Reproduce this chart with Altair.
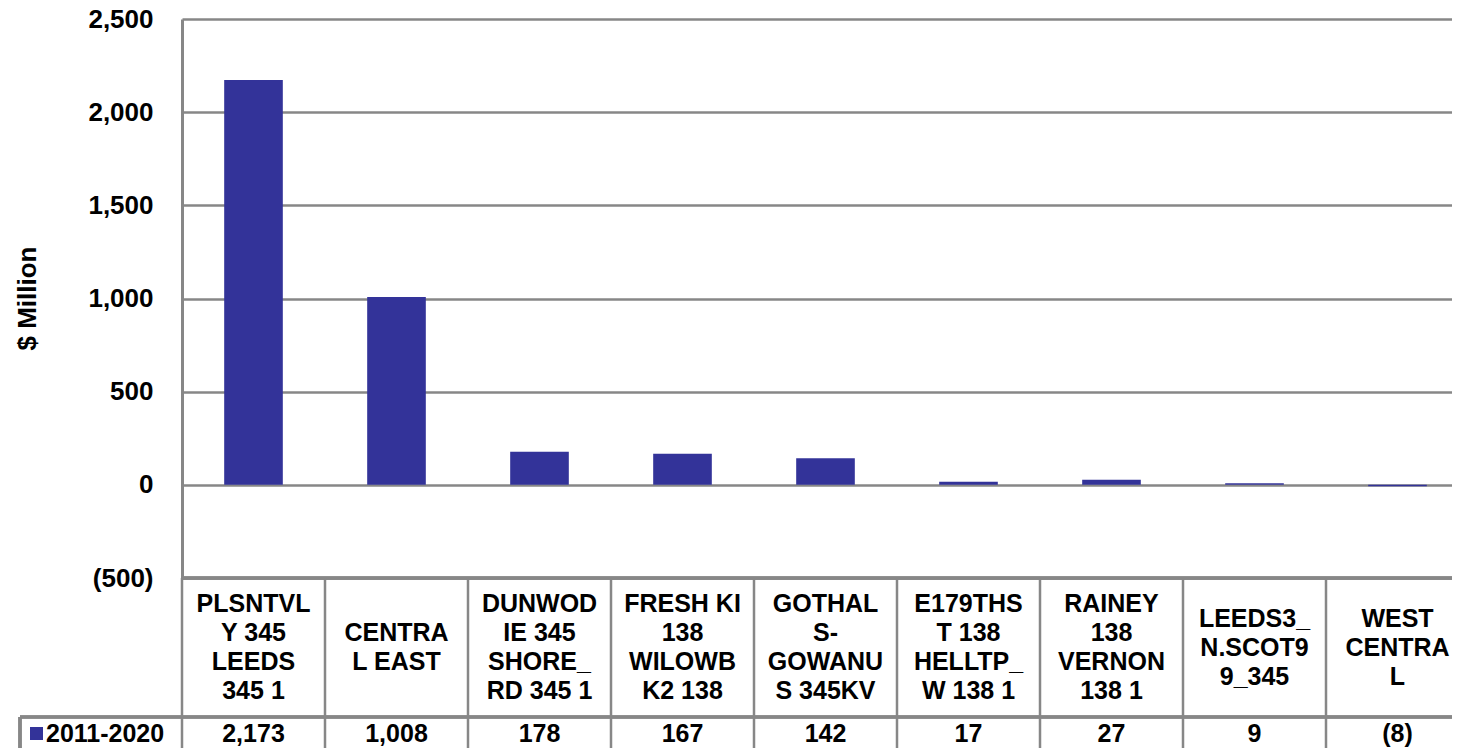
import altair as alt
import pandas as pd

# ---- data ----
categories = [
    "PLSNTVLY 345 LEEDS 345 1",
    "CENTRAL EAST",
    "DUNWODIE 345 SHORE_RD 345 1",
    "FRESH KI 138 WILOWBK2 138",
    "GOTHALS-GOWANUS 345KV",
    "E179THST 138 HELLTP_W 138 1",
    "RAINEY 138 VERNON 138 1",
    "LEEDS3_N.SCOT99_345",
    "WEST CENTRAL",
]
category_labels = [
    "PLSNTVL\nY 345\nLEEDS\n345 1",
    "CENTRA\nL EAST",
    "DUNWOD\nIE 345\nSHORE_\nRD 345 1",
    "FRESH KI\n138\nWILOWB\nK2 138",
    "GOTHAL\nS-\nGOWANU\nS 345KV",
    "E179THS\nT 138\nHELLTP_\nW 138 1",
    "RAINEY\n138\nVERNON\n138 1",
    "LEEDS3_\nN.SCOT9\n9_345",
    "WEST\nCENTRA\nL",
]
values = [2173, 1008, 178, 167, 142, 17, 27, 9, -8]
series_name = ["2011-2020"]
y_ticks = [-500, 0, 500, 1000, 1500, 2000, 2500]


def fmt(v):
    s = f"{abs(v):,}"
    return f"({s})" if v < 0 else s


df = pd.DataFrame({
    "cat": categories,
    "label": category_labels,
    "value": values,
    "vtext": [fmt(v) for v in values],
})
leg = pd.DataFrame({"name": series_name})

FONT = "Liberation Sans"
BAR = "#333399"
GRID = "#878787"

W = 1270          # visible plot width (window edge)
H = 729           # total chart height (plot + table)
PLOT_H = 559      # pixel height of the value axis
COLS_W = 1287     # full width of the 9 table columns
TABLE_MID = 698   # line between category row and value row
CAT_MID = 628.5   # vertical centre of the category row
LINE_H = 29
VAL_Y = 715

xscale = alt.Scale(domain=categories, range=[0, COLS_W], paddingInner=0, paddingOuter=0)
yscale = alt.Scale(domain=[-500, 2500], range=[PLOT_H, 0], nice=False, zero=False)

base = alt.Chart(df)

bars = base.mark_bar(color=BAR, width={"band": 0.41}).encode(
    x=alt.X("cat:N", scale=xscale, axis=None, sort=categories),
    y=alt.Y(
        "value:Q",
        scale=yscale,
        axis=alt.Axis(
            values=y_ticks,
            labelExpr="datum.value < 0 ? '(' + format(-datum.value, ',') + ')' : format(datum.value, ',')",
            labelFont=FONT,
            labelFontSize=26,
            labelFontWeight="bold",
            labelColor="black",
            labelPadding=29,
            labelOverlap=False,
            labelFlush=False,
            ticks=False,
            domainColor=GRID,
            domainWidth=3,
            gridColor=GRID,
            gridWidth=2.5,
            title="$ Million",
            titleFont=FONT,
            titleFontSize=26,
            titleFontWeight="bold",
            titleColor="black",
            titleAngle=270,
            titleX=-155,
            titleY=279,
            titleAlign="center",
            titleBaseline="middle",
        ),
    ),
    y2=alt.datum(0),
)

# vertical table lines at band boundaries
vlines = base.mark_rule(color=GRID, strokeWidth=2.5).encode(
    x=alt.X("cat:N", scale=xscale, sort=categories, bandPosition=0),
    y=alt.value(PLOT_H),
    y2=alt.value(H + 5),
)

hline_top = base.mark_rule(color=GRID, strokeWidth=2.5).encode(
    x=alt.value(0), x2=alt.value(W), y=alt.value(PLOT_H)
)
hline_mid = base.mark_rule(color=GRID, strokeWidth=2.5).encode(
    x=alt.value(-162), x2=alt.value(W), y=alt.value(TABLE_MID)
)
vline_leg = base.mark_rule(color=GRID, strokeWidth=2.5).encode(
    x=alt.value(-162), y=alt.value(TABLE_MID), y2=alt.value(H + 5)
)

# category labels, vertically centred according to their number of lines
cat_layers = []
for n in (2, 3, 4):
    cat_layers.append(
        base.transform_calculate(nlines="length(split(datum.label, '\\n'))")
        .transform_filter(f"datum.nlines == {n}")
        .mark_text(
            font=FONT, fontSize=25, fontWeight="bold", lineBreak="\n", lineHeight=LINE_H,
            align="center", baseline="middle", color="black",
        )
        .encode(
            x=alt.X("cat:N", scale=xscale, sort=categories),
            y=alt.value(CAT_MID - (n - 1) * LINE_H / 2),
            text="label:N",
        )
    )

val_text = base.mark_text(
    font=FONT, fontSize=25, fontWeight="bold",
    align="center", baseline="middle", color="black",
).encode(
    x=alt.X("cat:N", scale=xscale, sort=categories),
    y=alt.value(VAL_Y),
    text="vtext:N",
)

leg_sq = alt.Chart(leg).mark_rect(color=BAR).encode(
    x=alt.value(-152), x2=alt.value(-139), y=alt.value(VAL_Y - 7), y2=alt.value(VAL_Y + 6)
)
leg_text = alt.Chart(leg).mark_text(
    font=FONT, fontSize=25, fontWeight="bold", align="left", baseline="middle", color="black"
).encode(x=alt.value(-136), y=alt.value(VAL_Y), text="name:N")

chart = alt.layer(
    bars, vlines, hline_top, hline_mid, vline_leg, *cat_layers, val_text, leg_sq, leg_text
).properties(
    width=W,
    height=H,
    autosize=alt.AutoSizeParams(type="none"),
    padding={"left": 174, "top": 11, "right": 0, "bottom": 0},
).configure_view(strokeWidth=0)

chart.save("out.html", embed_options={"renderer": "svg", "actions": False})
